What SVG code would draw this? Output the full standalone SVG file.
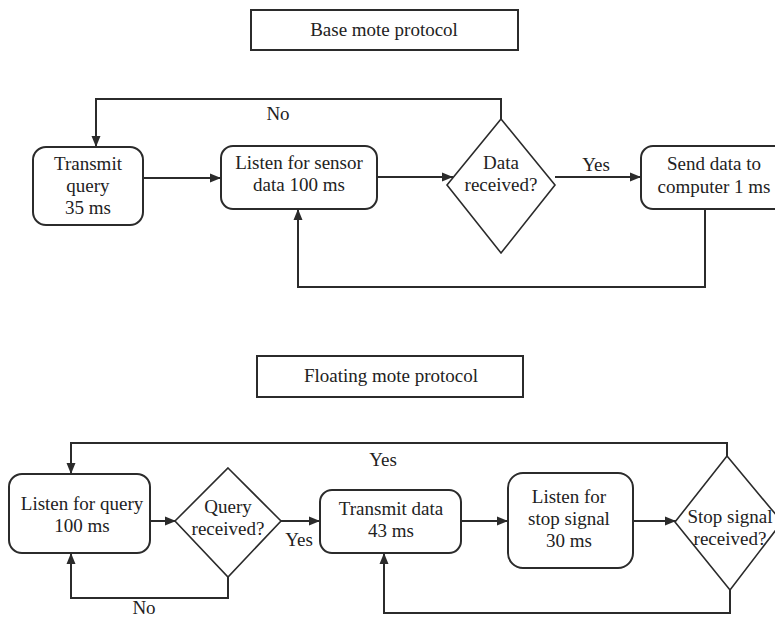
<svg xmlns="http://www.w3.org/2000/svg" width="775" height="619" viewBox="0 0 775 619">
  <defs>
    <marker id="arrow" markerUnits="userSpaceOnUse" markerWidth="12" markerHeight="10" refX="11" refY="5" orient="auto">
      <path d="M0,0.5 L11,5 L0,9.5 z" fill="#2b2b2b"/>
    </marker>
    <style>
      .box { fill: #ffffff; stroke: #2b2b2b; stroke-width: 2; }
      .dec { fill: #ffffff; stroke: #2b2b2b; stroke-width: 1.6; }
      .edge { fill: none; stroke: #2b2b2b; stroke-width: 2; }
      .arr { marker-end: url(#arrow); }
      text { font-family: "Liberation Serif", "Times New Roman", serif; font-size: 19px; fill: #222222; text-anchor: middle; }
    </style>
  </defs>
  <rect width="775" height="619" fill="#ffffff"/>

  <!-- Base mote protocol -->
  <g id="base-title">
    <rect class="box" x="251" y="10" width="267" height="40"/>
    <text x="384" y="36">Base mote protocol</text>
  </g>
  <g id="transmit-query">
    <rect class="box" x="33" y="147" width="110" height="78" rx="13"/>
    <text x="88" y="170">Transmit</text>
    <text x="88" y="192">query</text>
    <text x="88" y="214">35 ms</text>
  </g>
  <g id="listen-sensor">
    <rect class="box" x="221" y="146" width="156" height="63" rx="12"/>
    <text x="299" y="169">Listen for sensor</text>
    <text x="299" y="191">data 100 ms</text>
  </g>
  <g id="data-received">
    <polygon class="dec" points="501,119 555,185 501,253 447,185"/>
    <text x="501" y="169">Data</text>
    <text x="501" y="191">received?</text>
  </g>
  <g id="send-data">
    <rect class="box" x="641" y="146" width="150" height="63" rx="12"/>
    <text x="714" y="170">Send data to</text>
    <text x="714" y="193">computer 1 ms</text>
  </g>

  <!-- Floating mote protocol -->
  <g id="floating-title">
    <rect class="box" x="257" y="356" width="266" height="41"/>
    <text x="391" y="382">Floating mote protocol</text>
  </g>
  <g id="listen-query">
    <rect class="box" x="9" y="474" width="141" height="79" rx="13"/>
    <text x="82" y="510">Listen for query</text>
    <text x="82" y="532">100 ms</text>
  </g>
  <g id="query-received">
    <polygon class="dec" points="228,468 281,521 228,577 175,521"/>
    <text x="228" y="513">Query</text>
    <text x="228" y="535">received?</text>
  </g>
  <g id="transmit-data">
    <rect class="box" x="320" y="490" width="141" height="63" rx="12"/>
    <text x="391" y="515">Transmit data</text>
    <text x="391" y="537">43 ms</text>
  </g>
  <g id="listen-stop">
    <rect class="box" x="508" y="473" width="125" height="95" rx="15"/>
    <text x="569" y="503">Listen for</text>
    <text x="569" y="525">stop signal</text>
    <text x="569" y="547">30 ms</text>
  </g>
  <g id="stop-received">
    <polygon class="dec" points="727,456 782,522 730,590 675,522"/>
    <text x="730" y="523">Stop signal</text>
    <text x="730" y="545">received?</text>
  </g>

  <!-- Connectors -->
  <g id="connectors">
    <path class="edge arr" d="M501,119 V99 H96 V147"/>
    <path class="edge arr" d="M143,178 H221"/>
    <path class="edge arr" d="M377,177 H453"/>
    <path class="edge arr" d="M555,177 H641"/>
    <path class="edge arr" d="M705,209 V287 H298 V209"/>

    <path class="edge arr" d="M727,456 V443 H71 V474"/>
    <path class="edge arr" d="M150,521 H176"/>
    <path class="edge arr" d="M281,521 H320"/>
    <path class="edge arr" d="M461,521 H508"/>
    <path class="edge arr" d="M633,521 H676"/>
    <path class="edge arr" d="M228,577 V598 H71 V553"/>
    <path class="edge arr" d="M730,590 V613 H384 V553"/>
  </g>

  <!-- Branch labels -->
  <g id="labels">
    <text x="278" y="120">No</text>
    <text x="596" y="171">Yes</text>
    <text x="383" y="466">Yes</text>
    <text x="299" y="546">Yes</text>
    <text x="144" y="614">No</text>
  </g>
</svg>
